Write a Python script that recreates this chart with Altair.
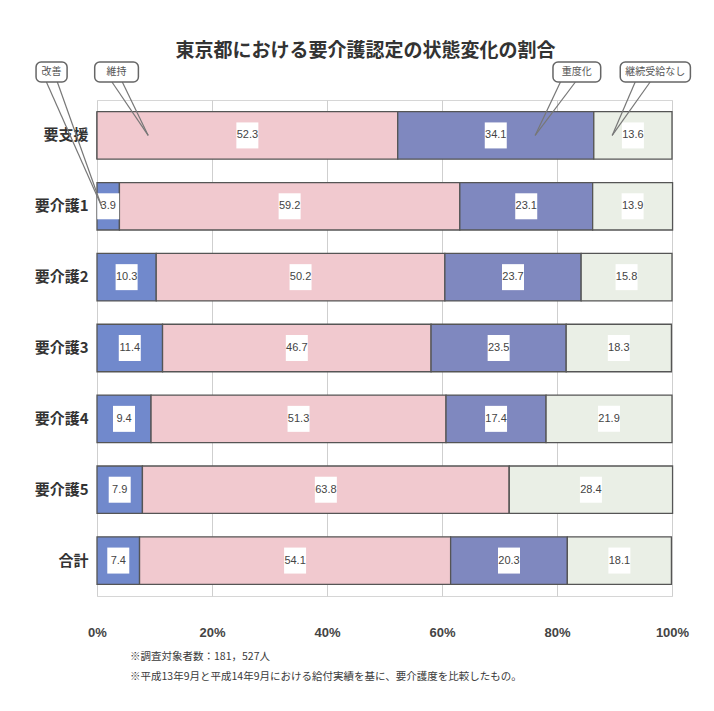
import altair as alt
import pandas as pd

# ---- data ----
categories = ["要支援", "要介護1", "要介護2", "要介護3", "要介護4", "要介護5", "合計"]
series = ["改善", "維持", "重度化", "継続受給なし"]
kaizen = [0, 3.9, 10.3, 11.4, 9.4, 7.9, 7.4]
iji = [52.3, 59.2, 50.2, 46.7, 51.3, 63.8, 54.1]
judo = [34.1, 23.1, 23.7, 23.5, 17.4, 0, 20.3]
nashi = [13.6, 13.9, 15.8, 18.3, 21.9, 28.4, 18.1]
colors = ["#7189cc", "#f1c9cf", "#7f88bf", "#eaefe6"]

title_text = "東京都における要介護認定の状態変化の割合"
notes = ["※調査対象者数：181，527人",
         "※平成13年9月と平成14年9月における給付実績を基に、要介護度を比較したもの。"]

# callout boxes (x extent in percent units)
callout_labels = ["改善", "維持", "重度化", "継続受給なし"]
callout_x0 = [-10.6, -0.4, 79.3, 91.0]
callout_x1 = [-5.2, 7.2, 87.6, 103.2]
# pointer lines: start (box bottom) and end (inside bar) in percent, target row
ptr_start = [-8.8, -6.9, 2.6, 4.4, 80.6, 83.2, 93.6, 96.2]
ptr_end = [0.8, 0.8, 8.9, 8.9, 76.2, 76.2, 89.6, 89.6]
ptr_row = ["要介護1", "要介護1", "要支援", "要支援", "要支援", "要支援", "要支援", "要支援"]

JP = "Noto Sans CJK JP"
NUM = "Liberation Sans Narrow, Liberation Sans, Arial"

rows = []
for i, c in enumerate(categories):
    for j, (s, vals) in enumerate(zip(series, [kaizen, iji, judo, nashi])):
        rows.append({"category": c, "series": s, "order": j, "value": vals[i]})
df = pd.DataFrame(rows)

call_df = pd.DataFrame({"label": callout_labels, "bx0": callout_x0, "bx1": callout_x1})
call_df["bxc"] = (call_df["bx0"] + call_df["bx1"]) / 2
ptr_df = pd.DataFrame({"xs": ptr_start, "xe": ptr_end, "row": ptr_row})
note_df = pd.DataFrame({"t": ["\n".join(notes)]})

xscale = alt.Scale(domain=[0, 100], nice=False)
yscale = alt.Scale(domain=categories, paddingInner=0.33, paddingOuter=0.165)
yaxis = alt.Axis(labelFont=JP, labelFontSize=15, labelFontWeight="bold",
                 labelColor="#333333", labelPadding=9, ticks=False,
                 domain=False, grid=False)
xaxis = alt.Axis(values=[0, 20, 40, 60, 80, 100], labelExpr="datum.value + '%'",
                 labelFont=NUM, labelFontSize=13, labelFontWeight="bold",
                 labelColor="#444444", labelPadding=30, ticks=False, labelFlush=False,
                 domain=False, grid=True, gridColor="#cfcfcf", gridWidth=1)


def X(field):
    return alt.X(field, scale=xscale, axis=xaxis, title=None)


def Y(field):
    return alt.Y(field, scale=yscale, sort=categories, axis=yaxis, title=None)


stacked = alt.Chart(df).transform_stack(
    stack="value", groupby=["category"], as_=["x0", "x1"],
    sort=[alt.SortField("order", order="ascending")]
).transform_calculate(mid="(datum.x0 + datum.x1) / 2")

bars = stacked.mark_bar(stroke="#555555", strokeWidth=1.3).encode(
    y=Y("category:N"),
    x=X("x0:Q"),
    x2="x1:Q",
    color=alt.Color("series:N", scale=alt.Scale(domain=series, range=colors), legend=None),
)

lab = stacked.transform_filter("datum.value > 0")
label_box = lab.mark_rect(fill="white", width=22, height=26).encode(
    x=X("mid:Q"), y=Y("category:N"),
)
label_text = lab.mark_text(font=NUM, fontSize=11, color="#444444").encode(
    x=X("mid:Q"), y=Y("category:N"),
    text=alt.Text("value:Q", format=".1f"),
)

pointers = alt.Chart(ptr_df).mark_rule(color="#777777", strokeWidth=1.2).encode(
    x=X("xe:Q"), y=Y("row:N"),
    x2="xs:Q",
    y2=alt.value(-18),
)
boxes = alt.Chart(call_df).mark_rect(fill="white", stroke="#666666", strokeWidth=1.5,
                                     cornerRadius=5).encode(
    x=X("bx0:Q"),
    x2="bx1:Q",
    y=alt.value(-38), y2=alt.value(-18),
)
box_text = alt.Chart(call_df).mark_text(font=JP, fontSize=10, color="#555555").encode(
    x=X("bxc:Q"),
    y=alt.value(-28),
    text="label:N",
)
footnote = alt.Chart(note_df).mark_text(font=JP, fontSize=10.5, color="#3a3a3a", align="left",
                                        baseline="middle", lineBreak="\n", lineHeight=20).encode(
    x=alt.value(33), y=alt.value(557), text="t:N",
)

chart = alt.layer(bars, label_box, label_text, pointers, boxes, box_text, footnote).properties(
    width=575, height=496,
    autosize=alt.AutoSizeParams(type="none"),
    padding={"left": 89, "top": 92, "right": 34, "bottom": 107},
    title=alt.TitleParams(title_text, font=JP, fontSize=19, fontWeight="bold",
                          color="#333333", dx=-19, offset=0, anchor="middle"),
    background="white",
).configure_view(stroke="#d6d6d6")

chart.save("out.html", embed_options={"renderer": "svg", "actions": False})
